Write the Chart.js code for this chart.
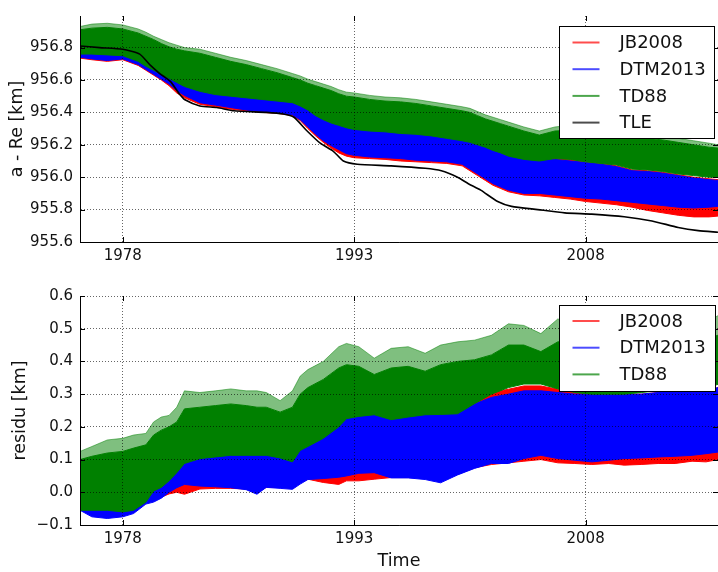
<!DOCTYPE html>
<html><head><meta charset="utf-8">
<script src="https://cdn.jsdelivr.net/npm/chart.js@4/dist/chart.umd.min.js"></script>
<style>
html,body{margin:0;padding:0;background:#fff;overflow:hidden;width:718px;height:572px}
#w1{position:absolute;left:0;top:0;width:718px;height:280px}
#w2{position:absolute;left:0;top:280px;width:718px;height:292px}
</style></head><body>
<div id="w1"><canvas id="c1" width="718" height="280"></canvas></div>
<div id="w2"><canvas id="c2" width="718" height="292"></canvas></div>
<script>
// ---------- tick labels / categories ----------
const X_TICKS = [1978, 1993, 2008];
const TOP_Y_TICKS = [955.6, 955.8, 956.0, 956.2, 956.4, 956.6, 956.8];
const BOT_Y_TICKS = [-0.1, 0.0, 0.1, 0.2, 0.3, 0.4, 0.5, 0.6];
const TOP_SERIES = ['JB2008', 'DTM2013', 'TD88', 'TLE'];
const BOT_SERIES = ['JB2008', 'DTM2013', 'TD88'];
const X_MIN = 1975.23, X_MAX = 2016.58;

// ---------- top panel: a - Re [km] (band envelopes) ----------
const T_TOP = [1975.23,1976,1977,1978,1979,1979.5,1980,1980.5,1981,1981.5,1982,1983,1984,1985,1986,1987,1988,1989,1989.5,1990,1990.5,1991,1991.5,1992,1992.5,1993,1994,1995,1996,1997,1998,1999,2000,2000.5,2001,2001.5,2002,2002.5,2003,2004,2005,2006,2007,2008,2009,2010,2011,2012,2013,2014,2015,2016,2016.58];
const JB2008_TOP_HI = [956.90,956.90,956.90,956.90,956.87,956.85,956.80,956.68,956.66,956.63,956.61,956.58,956.56,956.55,956.54,956.53,956.52,956.51,956.49,956.46,956.43,956.40,956.38,956.37,956.35,956.34,956.33,956.32,956.31,956.31,956.30,956.28,956.27,956.26,956.24,956.23,956.21,956.19,956.17,956.14,956.12,956.12,956.11,956.095,956.085,956.07,956.045,956.04,956.03,956.015,956.00,955.99,955.985];
const JB2008_TOP_LO = [956.735,956.725,956.715,956.725,956.69,956.66,956.63,956.60,956.565,956.52,956.49,956.45,956.435,956.42,956.41,956.40,956.395,956.38,956.35,956.30,956.255,956.215,956.18,956.15,956.13,956.12,956.115,956.11,956.10,956.095,956.09,956.085,956.07,956.04,956.01,955.98,955.95,955.93,955.91,955.89,955.885,955.875,955.865,955.85,955.84,955.83,955.815,955.795,955.78,955.765,955.755,955.755,955.76];
const DTM2013_TOP_HI = [956.80,956.80,956.79,956.79,956.75,956.72,956.70,956.67,956.65,956.62,956.60,956.57,956.55,956.54,956.53,956.52,956.51,956.50,956.48,956.45,956.42,956.39,956.37,956.36,956.34,956.33,956.32,956.31,956.30,956.30,956.29,956.27,956.26,956.25,956.23,956.22,956.20,956.18,956.16,956.13,956.11,956.11,956.10,956.09,956.08,956.065,956.04,956.035,956.025,956.01,955.995,955.985,955.98];
const DTM2013_TOP_LO = [956.74,956.73,956.72,956.73,956.695,956.665,956.635,956.605,956.575,956.535,956.505,956.46,956.445,956.43,956.415,956.405,956.40,956.385,956.355,956.31,956.265,956.225,956.195,956.17,956.145,956.135,956.125,956.12,956.115,956.105,956.10,956.095,956.08,956.05,956.02,955.99,955.96,955.94,955.92,955.90,955.90,955.89,955.88,955.87,955.865,955.855,955.845,955.835,955.825,955.815,955.81,955.815,955.82];
const TD88_TOP_PEAK = [956.93,956.945,956.95,956.94,956.915,956.895,956.87,956.85,956.83,956.815,956.80,956.79,956.765,956.74,956.72,956.695,956.67,956.64,956.625,956.605,956.59,956.575,956.56,956.54,956.525,956.52,956.505,956.495,956.49,956.48,956.465,956.45,956.435,956.425,956.405,956.385,956.37,956.355,956.34,956.31,956.285,956.31,956.32,956.31,956.30,956.29,956.28,956.27,956.255,956.24,956.225,956.21,956.20];
const TD88_TOP_HI = [956.91,956.92,956.925,956.915,956.89,956.87,956.85,956.825,956.805,956.79,956.78,956.765,956.74,956.715,956.695,956.67,956.645,956.615,956.60,956.58,956.565,956.55,956.535,956.515,956.50,956.495,956.48,956.47,956.465,956.455,956.44,956.425,956.41,956.40,956.38,956.36,956.345,956.33,956.315,956.285,956.26,956.285,956.29,956.28,956.27,956.26,956.25,956.24,956.23,956.215,956.20,956.185,956.18];
const TD88_TOP_LO = [956.76,956.76,956.755,956.75,956.715,956.685,956.66,956.635,956.61,956.585,956.56,956.53,956.51,956.50,956.49,956.48,956.47,956.46,956.44,956.415,956.38,956.355,956.335,956.32,956.305,956.295,956.285,956.28,956.27,956.265,956.255,956.24,956.225,956.215,956.20,956.185,956.165,956.15,956.13,956.11,956.10,956.115,956.11,956.095,956.085,956.075,956.05,956.045,956.035,956.02,956.01,956.00,956.00];
const T_TLE = [1975.23,1976.5,1978.0,1979.1,1979.8,1980.4,1981.1,1981.7,1982.0,1983.0,1984.1,1985.2,1987.3,1988.4,1989.1,1989.9,1990.8,1991.65,1992.3,1993.2,1995.4,1997.6,1998.65,1999.7,2000.4,2001.2,2002.3,2003.2,2004.9,2006.65,2008.4,2010.5,2012.3,2014.0,2015.3,2016.58];
const TLE = [956.81,956.80,956.79,956.76,956.69,956.64,956.59,956.51,956.48,956.44,956.43,956.41,956.40,956.39,956.37,956.29,956.21,956.16,956.10,956.08,956.07,956.055,956.04,956.00,955.96,955.92,955.85,955.82,955.80,955.78,955.772,955.756,955.73,955.69,955.67,955.66];

// ---------- bottom panel: residu [km] ----------
const T_BOT = [1975.23,1976,1977,1978,1978.7,1979.5,1980,1980.5,1981,1981.5,1982,1983,1984,1985,1986,1986.7,1987.3,1988.2,1989,1989.5,1990,1991,1992,1992.5,1993.3,1994.3,1995.4,1996.5,1997.6,1998.6,1999.7,2000.8,2001.9,2003,2004,2005.1,2006.2,2007.3,2008.4,2009.5,2010.5,2011.6,2012.7,2013.8,2014.9,2015.8,2016.58];
const JB2008_RES_HI = [0.08,0.09,0.10,0.11,0.12,0.13,0.15,0.17,0.17,0.17,0.125,0.13,0.135,0.14,0.14,0.14,0.14,0.13,0.12,0.155,0.17,0.195,0.23,0.25,0.255,0.26,0.245,0.25,0.255,0.255,0.255,0.28,0.305,0.315,0.325,0.325,0.315,0.305,0.30,0.30,0.30,0.30,0.305,0.305,0.305,0.31,0.32];
const JB2008_RES_LO = [-0.05,-0.07,-0.075,-0.07,-0.06,-0.03,-0.025,-0.015,-0.005,0.0,-0.006,0.01,0.012,0.012,0.01,0.0,0.015,0.015,0.012,0.03,0.04,0.03,0.024,0.035,0.035,0.04,0.045,0.045,0.045,0.04,0.055,0.075,0.085,0.09,0.095,0.10,0.09,0.088,0.085,0.088,0.083,0.085,0.088,0.088,0.095,0.093,0.10];
const DTM2013_RES_HI = [0.08,0.09,0.10,0.11,0.12,0.13,0.15,0.16,0.17,0.17,0.12,0.125,0.13,0.135,0.135,0.135,0.135,0.125,0.115,0.15,0.165,0.19,0.225,0.245,0.25,0.255,0.24,0.245,0.25,0.25,0.25,0.27,0.29,0.30,0.31,0.31,0.305,0.30,0.30,0.30,0.30,0.30,0.305,0.305,0.305,0.31,0.32];
const DTM2013_RES_LO = [-0.055,-0.075,-0.08,-0.075,-0.065,-0.036,-0.03,-0.018,0.0,0.014,0.024,0.019,0.017,0.014,0.008,-0.006,0.015,0.012,0.009,0.025,0.039,0.042,0.046,0.05,0.058,0.06,0.044,0.044,0.039,0.029,0.053,0.073,0.088,0.088,0.103,0.113,0.103,0.098,0.093,0.098,0.103,0.105,0.108,0.11,0.113,0.118,0.123];
const TD88_RES_PEAK = [0.125,0.14,0.16,0.165,0.175,0.18,0.215,0.23,0.235,0.26,0.31,0.305,0.31,0.316,0.31,0.31,0.305,0.28,0.31,0.355,0.375,0.40,0.445,0.455,0.445,0.41,0.44,0.445,0.425,0.45,0.46,0.465,0.48,0.515,0.51,0.485,0.53,0.51,0.51,0.51,0.51,0.51,0.51,0.51,0.51,0.52,0.54];
const TD88_RES_HI = [0.10,0.11,0.12,0.125,0.135,0.145,0.175,0.19,0.20,0.215,0.255,0.26,0.265,0.27,0.265,0.26,0.26,0.245,0.26,0.30,0.32,0.345,0.38,0.39,0.385,0.36,0.38,0.385,0.37,0.39,0.40,0.405,0.42,0.45,0.45,0.43,0.46,0.46,0.46,0.46,0.46,0.46,0.46,0.46,0.46,0.47,0.48];
const TD88_RES_LO = [-0.055,-0.055,-0.055,-0.06,-0.055,-0.03,0.004,0.015,0.035,0.06,0.088,0.103,0.108,0.113,0.113,0.113,0.113,0.105,0.093,0.128,0.14,0.165,0.20,0.225,0.232,0.237,0.222,0.23,0.237,0.238,0.24,0.271,0.30,0.32,0.331,0.331,0.316,0.305,0.30,0.30,0.30,0.305,0.31,0.31,0.31,0.32,0.33];

// ---------- styling ----------
const COLORS = {JB2008:'#ff0000', DTM2013:'#0000ff', TD88:'#008000', TLE:'#000000'};
const FRINGE = {JB2008:'rgba(255,0,0,0.5)', DTM2013:'rgba(0,0,255,0.5)', TD88:'rgba(0,128,0,0.5)'};
const FONT = "'DejaVu Sans', 'Liberation Sans', sans-serif";
Chart.defaults.font.family = FONT;
Chart.defaults.color = '#111';

const pts = (xs, ys) => xs.map((x, i) => ({x: x, y: ys[i]}));

// dense core of a series: filled between its upper and lower envelope
function band(name, xs, hi, lo, order) {
  const c = COLORS[name];
  return [
    {label: name, data: pts(xs, hi), borderColor: c, backgroundColor: c, borderWidth: 1, pointRadius: 0, fill: false, order: order, tension: 0},
    {label: name + ' low', data: pts(xs, lo), borderColor: c, backgroundColor: c, borderWidth: 1, pointRadius: 0, fill: '-1', order: order, tension: 0}
  ];
}
// sparse spike fringe of a series: lighter fill between the spike envelope and the core edge
function fringe(name, xs, outer, inner, order) {
  const c = FRINGE[name];
  return [
    {label: name + ' spikes', data: pts(xs, outer), borderColor: c, borderWidth: 1, pointRadius: 0, fill: false, order: order, tension: 0},
    {label: name + ' edge', data: pts(xs, inner), borderColor: 'rgba(0,0,0,0)', backgroundColor: c, borderWidth: 0, pointRadius: 0, fill: '-1', order: order, tension: 0}
  ];
}

const decor = {
  id: 'decor',
  afterDraw(chart, args, o) {
    const {ctx, chartArea: a, scales: {x, y}} = chart;
    ctx.save();
    ctx.strokeStyle = '#000'; ctx.lineWidth = 1; ctx.beginPath();
    x.ticks.forEach(t => { const px = Math.round(x.getPixelForValue(t.value)) + 0.5;
      ctx.moveTo(px, a.bottom); ctx.lineTo(px, a.bottom - 5);
      ctx.moveTo(px, a.top); ctx.lineTo(px, a.top + 5); });
    y.ticks.forEach(t => { const py = Math.round(y.getPixelForValue(t.value)) + 0.5;
      ctx.moveTo(a.left, py); ctx.lineTo(a.left + 5, py);
      ctx.moveTo(a.right, py); ctx.lineTo(a.right - 5, py); });
    ctx.stroke();
    const x0 = Math.round(a.right - o.offRight - o.w) + 0.5, y0 = Math.round(a.top + o.offTop) + 0.5;
    ctx.fillStyle = '#fff'; ctx.fillRect(x0, y0, o.w, o.h);
    ctx.strokeStyle = '#000'; ctx.lineWidth = 1; ctx.strokeRect(x0, y0, o.w, o.h);
    ctx.font = '18px ' + FONT; ctx.textBaseline = 'middle'; ctx.textAlign = 'left';
    o.items.forEach((name, i) => {
      const cy = y0 + o.first + i * o.step;
      ctx.globalAlpha = 0.7; ctx.strokeStyle = COLORS[name]; ctx.lineWidth = 2;
      ctx.beginPath(); ctx.moveTo(x0 + 13, cy); ctx.lineTo(x0 + 40, cy); ctx.stroke();
      ctx.globalAlpha = 1; ctx.fillStyle = '#111'; ctx.fillText(name, x0 + 60, cy + 1);
    });
    ctx.restore();
  }
};

function axisX(height, withTitle) {
  return {
    type: 'linear', min: X_MIN, max: X_MAX,
    afterBuildTicks: s => { s.ticks = X_TICKS.map(v => ({value: v})); },
    ticks: {font: {size: 15}, color: '#111', padding: 5, maxRotation: 0, autoSkip: false, callback: v => String(v)},
    grid: {color: 'rgba(0,0,0,0.6)', lineWidth: 1, drawTicks: false, z: 1},
    border: {display: true, color: '#000', width: 1, dash: [1, 2], z: 2},
    title: {display: withTitle, text: 'Time', font: {size: 17.5}, color: '#111', padding: {top: 0, bottom: 0}},
    afterFit: s => { s.height = height; }
  };
}
function axisY(min, max, ticks, title, tpad, fmt) {
  return {
    type: 'linear', min: min, max: max,
    afterBuildTicks: s => { s.ticks = ticks.map(v => ({value: v})); },
    ticks: {font: {size: 15}, color: '#111', padding: 7, callback: fmt},
    grid: {color: 'rgba(0,0,0,0.6)', lineWidth: 1, drawTicks: false, z: 1},
    border: {display: true, color: '#000', width: 1, dash: [1, 2], z: 2},
    title: {display: true, text: title, font: {size: 17.5}, color: '#111', padding: {top: tpad, bottom: 0}},
    afterFit: s => { s.width = 80; }
  };
}

const common = {responsive: false, animation: false, devicePixelRatio: 1, events: []};

new Chart(document.getElementById('c1'), {
  type: 'line',
  data: {datasets: [
    ...band('JB2008', T_TOP, JB2008_TOP_HI, JB2008_TOP_LO, 3),
    ...band('DTM2013', T_TOP, DTM2013_TOP_HI, DTM2013_TOP_LO, 2),
    ...band('TD88', T_TOP, TD88_TOP_HI, TD88_TOP_LO, 1),
    ...fringe('TD88', T_TOP, TD88_TOP_PEAK, TD88_TOP_HI, 1),
    {label: 'TLE', data: pts(T_TLE, TLE), borderColor: COLORS.TLE, borderWidth: 1.6, pointRadius: 0, fill: false, order: 0, tension: 0.2}
  ]},
  options: Object.assign({}, common, {
    layout: {padding: {top: 6, left: 0, right: 0, bottom: 0}},
    plugins: {legend: {display: false}, tooltip: {enabled: false},
      decor: {items: TOP_SERIES, w: 155, h: 112, offRight: 4, offTop: 10, first: 16, step: 26.7}},
    scales: {
      x: axisX(38, false),
      y: axisY(955.6, 956.995, TOP_Y_TICKS, 'a - Re [km]', 6.5, v => Number(v).toFixed(1))
    }
  }),
  plugins: [decor]
});

new Chart(document.getElementById('c2'), {
  type: 'line',
  data: {datasets: [
    ...band('JB2008', T_BOT, JB2008_RES_HI, JB2008_RES_LO, 3),
    ...band('DTM2013', T_BOT, DTM2013_RES_HI, DTM2013_RES_LO, 2),
    ...band('TD88', T_BOT, TD88_RES_HI, TD88_RES_LO, 1),
    ...fringe('TD88', T_BOT, TD88_RES_PEAK, TD88_RES_HI, 1)
  ]},
  options: Object.assign({}, common, {
    layout: {padding: {top: 9, left: 0, right: 0, bottom: 0}},
    plugins: {legend: {display: false}, tooltip: {enabled: false},
      decor: {items: BOT_SERIES, w: 156, h: 86, offRight: 3, offTop: 9, first: 15.5, step: 26.7}},
    scales: {
      x: axisX(47, true),
      y: axisY(-0.1, 0.6, BOT_Y_TICKS, 'residu [km]', 10, v => (v < -1e-9 ? '\u2212' : '') + Math.abs(v).toFixed(1))
    }
  }),
  plugins: [decor]
});
</script>
</body></html>
